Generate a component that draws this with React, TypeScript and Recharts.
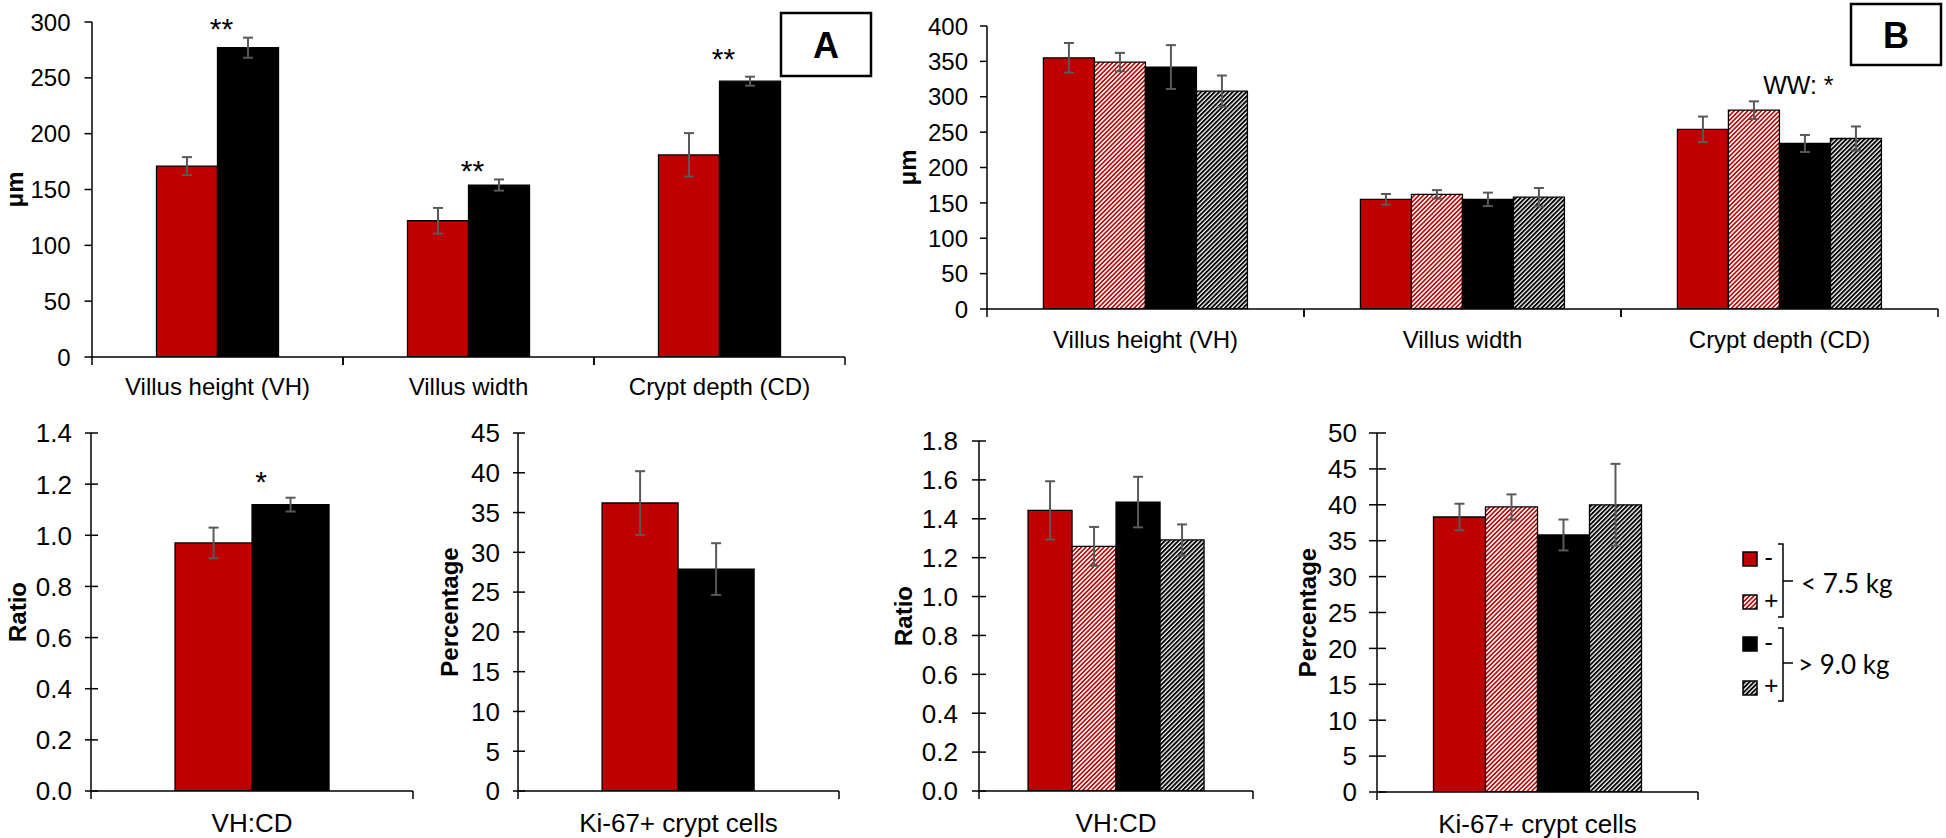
import React from 'react';
import { BarChart, Bar, XAxis, YAxis, ErrorBar, LabelList } from 'recharts';

const FONT = '"Liberation Sans", Arial, Helvetica, sans-serif';
const LEGEND_FONT = 'Lato, "Open Sans", sans-serif';
const RED = '#C00000';
const BLACK = '#000000';
const ERR_COLOR = '#595959';

// ---------- categories ----------
const morphCategories = ['Villus height (VH)', 'Villus width', 'Crypt depth (CD)'];
const ratioCategories = ['VH:CD'];
const kiCategories = ['Ki-67+ crypt cells'];

// ---------- Panel A (two groups) ----------
const aMorphLight = [171, 122, 181];
const aMorphLightSe = [8, 11.5, 19.5];
const aMorphHeavy = [277, 154, 247];
const aMorphHeavySe = [9, 5, 4];
const aMorphSig = ['**', '**', '**'];
const aMorphSigAt = [300, 173, 273];

const aRatioLight = [0.97];
const aRatioLightSe = [0.06];
const aRatioHeavy = [1.12];
const aRatioHeavySe = [0.027];
const aRatioSig = ['*'];
const aRatioSigAt = [1.236];

const aKiLight = [36.2];
const aKiLightSe = [4];
const aKiHeavy = [27.9];
const aKiHeavySe = [3.25];

// ---------- Panel B (four groups) ----------
const bMorphLightMinus = [355, 155, 254];
const bMorphLightMinusSe = [21, 7.5, 18];
const bMorphLightPlus = [349, 162, 281];
const bMorphLightPlusSe = [13, 6, 12.5];
const bMorphHeavyMinus = [342, 155, 234];
const bMorphHeavyMinusSe = [31, 9.5, 12];
const bMorphHeavyPlus = [308, 158, 241];
const bMorphHeavyPlusSe = [22, 13, 17];
const bMorphNote = ['', '', 'WW: *'];
const bMorphNoteAt = [0, 0, 317];

const bRatioLightMinus = [1.443];
const bRatioLightMinusSe = [0.15];
const bRatioLightPlus = [1.258];
const bRatioLightPlusSe = [0.1];
const bRatioHeavyMinus = [1.486];
const bRatioHeavyMinusSe = [0.13];
const bRatioHeavyPlus = [1.291];
const bRatioHeavyPlusSe = [0.08];

const bKiLightMinus = [38.3];
const bKiLightMinusSe = [1.85];
const bKiLightPlus = [39.7];
const bKiLightPlusSe = [1.75];
const bKiHeavyMinus = [35.8];
const bKiHeavyMinusSe = [2.15];
const bKiHeavyPlus = [40.0];
const bKiHeavyPlusSe = [5.7];

// ---------- tick values ----------
const ticksA300 = [0, 50, 100, 150, 200, 250, 300];
const ticksB400 = [0, 50, 100, 150, 200, 250, 300, 350, 400];
const ticksRatio14 = [0, 0.2, 0.4, 0.6, 0.8, 1.0, 1.2, 1.4];
const ticksPct45 = [0, 5, 10, 15, 20, 25, 30, 35, 40, 45];
const ticksRatio18 = [0, 0.2, 0.4, 0.6, 0.8, 1.0, 1.2, 1.4, 1.6, 1.8];
const ticksPct50 = [0, 5, 10, 15, 20, 25, 30, 35, 40, 45, 50];

// ---------- legend ----------
const legendGroups = ['< 7.5 kg', '> 9.0 kg'];
const legendSigns = ['-', '+'];

type Series = { values: number[]; se: number[]; fill: string };
type Note = {
  series: number;
  texts: string[];
  at: number[];
  font: number;
  dx: (w: number) => number;
  baselineEm: number;
};

type PanelProps = {
  left: number;
  top: number;
  width: number;
  height: number;
  plotTop: number;
  axisX: number;
  plotRight: number;
  plotBottom: number;
  categories: string[];
  series: Series[];
  domain: [number, number];
  ticks: number[];
  decimals: number;
  yTitle: string;
  yTitleX: number;
  tickFont: number;
  catFont: number;
  catBaseline: number;
  yTickOut: number;
  yTickIn: number;
  yTickGap: number;
  gap: string;
  note?: Note;
};

const makeXTick = (half: number, font: number, baseline: number) => (props: any) => {
  const { x, y, payload } = props;
  return (
    <g>
      <line x1={x - half} x2={x - half} y1={y} y2={y + 8} stroke="#000" strokeWidth={1.5} />
      <line x1={x + half} x2={x + half} y1={y} y2={y + 8} stroke="#000" strokeWidth={1.5} />
      <text x={x} y={y + baseline} textAnchor="middle" fontSize={font} fontFamily={FONT} fill="#000">
        {payload.value}
      </text>
    </g>
  );
};

const makeYTick = (decimals: number, font: number, outLen: number, inLen: number, gap: number) => (props: any) => {
  const { x, y, payload } = props;
  const v = Number(payload.value);
  return (
    <g>
      <line x1={x - outLen} x2={x + inLen} y1={y} y2={y} stroke="#000" strokeWidth={1.5} />
      <text x={x - outLen - gap} y={y} dy="0.36em" textAnchor="end" fontSize={font} fontFamily={FONT} fill="#000">
        {v.toFixed(decimals)}
      </text>
    </g>
  );
};

const makeNote = (s: Series, note: Note) => (props: any) => {
  const vb = props.viewBox ?? props;
  const i = props.index;
  const text = note.texts[i];
  if (!text) return null;
  const y0 = Number(vb.y);
  const h = Number(vb.height);
  const base = Math.max(y0, y0 + h);
  const hh = Math.abs(h);
  const ppu = hh / s.values[i];
  const cy = base - note.at[i] * ppu;
  return (
    <text
      x={Number(vb.x) + note.dx(Number(vb.width))}
      y={cy + note.baselineEm * note.font}
      textAnchor="middle"
      fontSize={note.font}
      fontFamily={FONT}
      fill="#000"
    >
      {text}
    </text>
  );
};

const Panel = (p: PanelProps) => {
  const data = p.categories.map((c, i) => {
    const row: any = { name: c };
    p.series.forEach((s, k) => {
      row['v' + k] = s.values[i];
      row['e' + k] = s.se[i];
    });
    return row;
  });
  const half = (p.plotRight - p.axisX) / p.categories.length / 2;
  return (
    <div style={{ position: 'absolute', left: p.left, top: p.top, width: p.width, height: p.height }}>
      <BarChart
        width={p.width}
        height={p.height}
        data={data}
        margin={{ top: p.plotTop, right: p.width - p.plotRight, left: 0, bottom: 0 }}
        barGap={0}
        barCategoryGap={p.gap}
      >
        <XAxis
          dataKey="name"
          interval={0}
          height={p.height - p.plotBottom}
          axisLine={{ stroke: '#000', strokeWidth: 1.5 }}
          tickLine={false}
          tickSize={0}
          tickMargin={0}
          tick={makeXTick(half, p.catFont, p.catBaseline)}
        />
        <YAxis
          width={p.axisX}
          domain={p.domain}
          ticks={p.ticks}
          interval={0}
          allowDataOverflow
          axisLine={{ stroke: '#000', strokeWidth: 1.5 }}
          tickLine={false}
          tickSize={0}
          tickMargin={0}
          tick={makeYTick(p.decimals, p.tickFont, p.yTickOut, p.yTickIn, p.yTickGap)}
          label={{
            value: p.yTitle,
            angle: -90,
            position: 'center',
            dx: p.yTitleX - p.axisX / 2,
            fontSize: 24,
            fontWeight: 'bold',
            fontFamily: FONT,
            fill: '#000',
          }}
        />
        {p.series.map((s, k) => (
          <Bar
            key={k}
            dataKey={'v' + k}
            fill={s.fill}
            stroke="#000"
            strokeWidth={1.3}
            isAnimationActive={false}
          >
            <ErrorBar dataKey={'e' + k} width={5} stroke={ERR_COLOR} strokeWidth={2} direction="y" />
            {p.note && p.note.series === k ? (
              <LabelList dataKey="name" content={makeNote(s, p.note)} />
            ) : null}
          </Bar>
        ))}
      </BarChart>
    </div>
  );
};

const twoGroup = (light: number[], lightSe: number[], heavy: number[], heavySe: number[]): Series[] => [
  { values: light, se: lightSe, fill: RED },
  { values: heavy, se: heavySe, fill: BLACK },
];

const fourGroup = (
  lm: number[], lmSe: number[], lp: number[], lpSe: number[],
  hm: number[], hmSe: number[], hp: number[], hpSe: number[]
): Series[] => [
  { values: lm, se: lmSe, fill: RED },
  { values: lp, se: lpSe, fill: 'url(#hatchRed)' },
  { values: hm, se: hmSe, fill: BLACK },
  { values: hp, se: hpSe, fill: 'url(#hatchBlack)' },
];

const Legend = () => {
  const fills = [RED, 'url(#hatchRed)', BLACK, 'url(#hatchBlack)'];
  const squareY = [552, 595, 637, 681];
  const signBase = [567, 609, 652, 694];
  const brackets = [
    { y1: 544, y2: 617, mid: 581, textX: 1801, base: 593 },
    { y1: 628, y2: 701, mid: 663, textX: 1798, base: 674 },
  ];
  return (
    <g>
      {fills.map((f, i) => (
        <g key={i}>
          <rect x={1743} y={squareY[i]} width={14} height={14} fill={f} stroke="#000" strokeWidth={1.5} />
          <text x={1764} y={signBase[i]} fontSize={25} fontFamily={LEGEND_FONT} fill="#000">
            {legendSigns[i % 2]}
          </text>
        </g>
      ))}
      {brackets.map((b, i) => (
        <g key={i}>
          <path
            d={`M1778,${b.y1} L1783,${b.y1} L1783,${b.y2} L1778,${b.y2}`}
            fill="none"
            stroke="#000"
            strokeWidth={1.5}
          />
          <line x1={1783} x2={1793} y1={b.mid} y2={b.mid} stroke="#000" strokeWidth={1.5} />
          <text x={b.textX} y={b.base} fontSize={26} fontFamily={LEGEND_FONT} fill="#000">
            {legendGroups[i]}
          </text>
        </g>
      ))}
    </g>
  );
};

export default function App() {
  return (
    <div style={{ position: 'absolute', left: 0, top: 0, width: 1946, height: 838, background: '#fff', overflow: 'hidden' }}>
      <svg width={0} height={0} style={{ position: 'absolute' }}>
        <defs>
          <pattern id="hatchRed" patternUnits="userSpaceOnUse" width={3.2} height={3.2} patternTransform="rotate(45)">
            <rect width={3.2} height={3.2} fill="#fff" />
            <rect width={1.6} height={3.2} fill={RED} />
          </pattern>
          <pattern id="hatchBlack" patternUnits="userSpaceOnUse" width={3.2} height={3.2} patternTransform="rotate(45)">
            <rect width={3.2} height={3.2} fill="#fff" />
            <rect width={1.9} height={3.2} fill={BLACK} />
          </pattern>
        </defs>
      </svg>

      {/* Panel A: morphology */}
      <Panel
        left={0} top={0} width={870} height={400}
        plotTop={22} axisX={92} plotRight={845} plotBottom={357}
        categories={morphCategories}
        series={twoGroup(aMorphLight, aMorphLightSe, aMorphHeavy, aMorphHeavySe)}
        domain={[0, 300]} ticks={ticksA300} decimals={0}
        yTitle="μm" yTitleX={14}
        tickFont={24} catFont={24} catBaseline={38}
        yTickOut={7.5} yTickIn={0} yTickGap={14}
        gap="25.7%"
        note={{ series: 1, texts: aMorphSig, at: aMorphSigAt, font: 30, dx: () => 4, baselineEm: 0.575 }}
      />

      {/* Panel B: morphology */}
      <Panel
        left={880} top={0} width={1066} height={360}
        plotTop={26} axisX={107} plotRight={1058} plotBottom={309}
        categories={morphCategories}
        series={fourGroup(
          bMorphLightMinus, bMorphLightMinusSe, bMorphLightPlus, bMorphLightPlusSe,
          bMorphHeavyMinus, bMorphHeavyMinusSe, bMorphHeavyPlus, bMorphHeavyPlusSe
        )}
        domain={[0, 400]} ticks={ticksB400} decimals={0}
        yTitle="μm" yTitleX={27}
        tickFont={24} catFont={24} catBaseline={39}
        yTickOut={7} yTickIn={0} yTickGap={12}
        gap="17.8%"
        note={{ series: 1, texts: bMorphNote, at: bMorphNoteAt, font: 25, dx: (w) => w + 19, baselineEm: 0.36 }}
      />

      {/* Panel A: VH:CD */}
      <Panel
        left={0} top={400} width={430} height={438}
        plotTop={33} axisX={91} plotRight={413} plotBottom={391}
        categories={ratioCategories}
        series={twoGroup(aRatioLight, aRatioLightSe, aRatioHeavy, aRatioHeavySe)}
        domain={[0, 1.4]} ticks={ticksRatio14} decimals={1}
        yTitle="Ratio" yTitleX={17}
        tickFont={26} catFont={26} catBaseline={40.6}
        yTickOut={6} yTickIn={7} yTickGap={13}
        gap="26.1%"
        note={{ series: 1, texts: aRatioSig, at: aRatioSigAt, font: 30, dx: () => 9, baselineEm: 0.575 }}
      />

      {/* Panel A: Ki-67 */}
      <Panel
        left={430} top={400} width={430} height={438}
        plotTop={33} axisX={88} plotRight={409} plotBottom={391}
        categories={kiCategories}
        series={twoGroup(aKiLight, aKiLightSe, aKiHeavy, aKiHeavySe)}
        domain={[0, 45]} ticks={ticksPct45} decimals={0}
        yTitle="Percentage" yTitleX={19}
        tickFont={26} catFont={26} catBaseline={40.6}
        yTickOut={5} yTickIn={7} yTickGap={13}
        gap="26.2%"
      />

      {/* Panel B: VH:CD */}
      <Panel
        left={870} top={400} width={400} height={438}
        plotTop={41} axisX={109} plotRight={383} plotBottom={391}
        categories={ratioCategories}
        series={fourGroup(
          bRatioLightMinus, bRatioLightMinusSe, bRatioLightPlus, bRatioLightPlusSe,
          bRatioHeavyMinus, bRatioHeavyMinusSe, bRatioHeavyPlus, bRatioHeavyPlusSe
        )}
        domain={[0, 1.8]} ticks={ticksRatio18} decimals={1}
        yTitle="Ratio" yTitleX={33}
        tickFont={26} catFont={26} catBaseline={40.6}
        yTickOut={7} yTickIn={7} yTickGap={14}
        gap="17.9%"
      />

      {/* Panel B: Ki-67 */}
      <Panel
        left={1270} top={400} width={440} height={438}
        plotTop={33} axisX={107} plotRight={428} plotBottom={392}
        categories={kiCategories}
        series={fourGroup(
          bKiLightMinus, bKiLightMinusSe, bKiLightPlus, bKiLightPlusSe,
          bKiHeavyMinus, bKiHeavyMinusSe, bKiHeavyPlus, bKiHeavyPlusSe
        )}
        domain={[0, 50]} ticks={ticksPct50} decimals={0}
        yTitle="Percentage" yTitleX={37}
        tickFont={26} catFont={26} catBaseline={40.6}
        yTickOut={8} yTickIn={9} yTickGap={12}
        gap="17.6%"
      />

      {/* Overlay: panel letters and legend */}
      <svg width={1946} height={838} style={{ position: 'absolute', left: 0, top: 0, pointerEvents: 'none' }}>
        <rect x={781} y={13} width={90} height={63} fill="#fff" stroke="#000" strokeWidth={2.5} />
        <text x={826} y={58} textAnchor="middle" fontSize={36} fontWeight="bold" fontFamily={FONT} fill="#000">A</text>
        <rect x={1851} y={4} width={90} height={61} fill="#fff" stroke="#000" strokeWidth={2.5} />
        <text x={1896} y={48} textAnchor="middle" fontSize={36} fontWeight="bold" fontFamily={FONT} fill="#000">B</text>
        <Legend />
      </svg>
    </div>
  );
}
